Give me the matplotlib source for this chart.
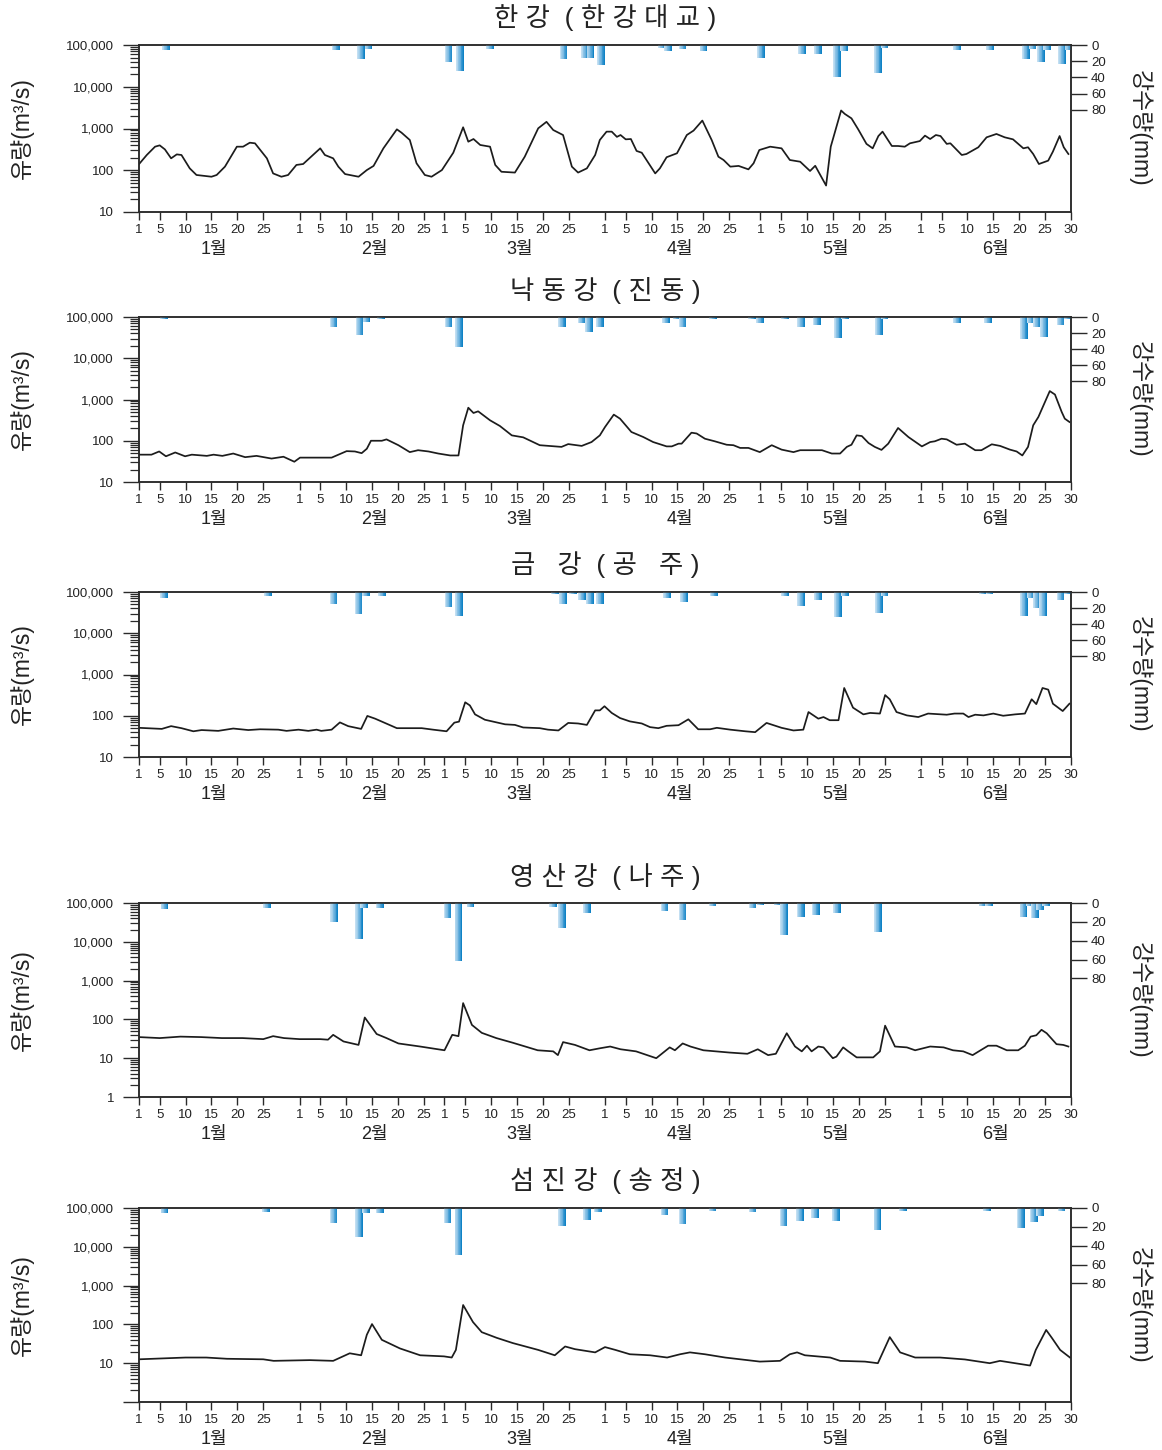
import numpy as np
import matplotlib
matplotlib.use('Agg')
import matplotlib.pyplot as plt
from matplotlib.ticker import LogLocator, FuncFormatter, NullFormatter
from matplotlib.colors import LinearSegmentedColormap

plt.rcParams['font.family'] = ['Liberation Sans', 'Noto Sans CJK KR', 'DejaVu Sans']

# ---------------- data (day index: 0 = 1 Jan ... 180 = 30 Jun) ----------------
titles = ['한 강  ( 한 강 대 교 )', '낙 동 강  ( 진 동 )', '금   강  ( 공   주 )',
          '영 산 강  ( 나 주 )', '섬 진 강  ( 송 정 )']

han_day = [0.0, 1.5, 3.1, 4.0, 5.0, 6.2, 7.3, 8.2, 9.8, 11.1, 14.0, 15.0, 16.6, 18.9, 20.1, 21.4, 22.4,
           24.7, 25.9, 27.5, 28.8, 30.4, 31.7, 35.0, 35.9, 37.5, 38.5, 39.8, 42.4, 44.0, 45.3, 47.2,
           49.8, 50.7, 52.3, 53.6, 55.2, 56.5, 58.5, 60.7, 62.6, 63.6, 64.6, 65.9, 67.8, 68.8, 70.0,
           72.6, 74.5, 77.1, 78.7, 80.0, 81.9, 83.6, 84.8, 86.5, 88.1, 89.0, 90.3, 91.3, 92.3, 93.0,
           94.0, 95.0, 96.1, 97.1, 99.7, 100.6, 101.9, 103.9, 105.8, 107.1, 108.8, 110.6, 111.9,
           112.9, 114.2, 115.8, 117.7, 118.7, 119.8, 121.9, 124.1, 125.7, 127.7, 129.6, 130.6,
           132.7, 133.6, 135.6, 136.3, 137.6, 138.9, 140.5, 141.7, 142.8, 143.6, 145.4, 146.6,
           147.9, 148.9, 150.8, 151.8, 152.8, 153.9, 154.8, 156.0, 156.7, 158.9, 159.8, 162.1,
           163.7, 165.6, 167.2, 168.8, 170.8, 171.7, 172.7, 173.8, 175.6, 176.5, 177.8, 178.6, 179.5]
han_flow = [140, 232, 367, 395, 316, 193, 240, 232, 111, 77, 70, 77, 122, 367, 367, 457, 442,
            193, 84, 70, 77, 134, 141, 335, 232, 193, 122, 81, 70, 101, 127, 335,
            955, 795, 531, 147, 77, 70, 101, 263, 1070, 483, 560, 403, 367, 134, 92,
            88, 211, 1010, 1445, 920, 698, 122, 88, 111, 232, 531, 841, 841, 630, 698,
            550, 560, 290, 263, 84, 111, 205, 255, 698, 890, 1550, 531, 211,
            176, 122, 127, 105, 147, 305, 367, 335, 176, 160, 96, 128,
            43, 367, 2700, 2240, 1750, 955, 428, 335, 660, 841, 381, 381,
            367, 442, 500, 675, 560, 698, 660, 428, 442, 232, 245, 355,
            615, 740, 615, 550, 335, 355, 245, 141, 170, 279, 660, 355, 245]
han_rain_day = [5.2, 38.0, 42.9, 44.3, 59.8, 62.0, 67.8, 82.0, 86.1, 87.2, 89.2, 101.0, 102.2, 105.0,
                109.0, 120.1, 128.1, 131.1, 134.8, 136.2, 142.7, 144.0, 158.0, 164.4, 171.3, 172.6,
                174.2, 175.4, 178.3, 179.5]
han_rain_mm = [6, 6, 17, 5, 20.5, 31.6, 5, 17, 15.6, 15.6, 24.6, 4, 7, 5,
               7, 15.6, 11, 11, 39, 8, 34, 4, 6, 6, 17.6, 5,
               20.5, 6, 24, 6]

nak_day = [0.0, 2.4, 3.9, 5.2, 7.0, 8.9, 10.2, 13.1, 14.4, 16.1, 18.2, 20.5, 22.7, 25.6, 27.9, 30.0,
           31.1, 37.2, 40.1, 41.7, 43.0, 44.0, 44.8, 46.9, 47.8, 50.1, 52.3, 53.9, 55.9, 57.8, 60.1,
           61.7, 62.6, 63.6, 64.6, 65.5, 67.8, 69.7, 72.0, 74.2, 77.4, 81.6, 82.9, 85.5, 87.4, 89.0,
           90.0, 91.7, 92.9, 95.1, 97.4, 99.3, 101.9, 102.9, 104.2, 104.8, 106.7, 107.7, 109.3,
           111.2, 113.5, 114.8, 116.1, 117.7, 119.9, 122.2, 124.1, 126.4, 127.7, 131.9, 133.8,
           135.4, 136.7, 137.6, 138.6, 139.6, 140.9, 142.1, 143.4, 144.7, 146.6, 148.6, 151.2,
           152.8, 153.7, 155.0, 156.0, 157.9, 159.5, 161.5, 162.7, 164.7, 166.3, 168.2, 169.5,
           170.6, 171.7, 172.7, 173.7, 175.9, 176.9, 178.2, 178.8, 179.7]
nak_flow = [46, 46, 55, 42, 52, 42, 46, 43, 46, 43, 49, 40, 43, 37, 41, 31,
            39, 39, 56, 55, 50, 64, 100, 100, 108, 78, 53, 59, 55, 49, 44,
            44, 237, 632, 471, 517, 313, 228, 135, 121, 78, 71, 83, 75, 93, 135,
            215, 430, 343, 163, 123, 93, 73, 73, 85, 85, 157, 150, 112,
            97, 80, 78, 67, 67, 53, 78, 61, 53, 59, 59, 49,
            49, 71, 80, 135, 130, 88, 71, 60, 85, 204, 123, 73,
            93, 97, 112, 108, 80, 85, 59, 59, 82, 75, 61, 55,
            44, 71, 237, 377, 1600, 1320, 500, 343, 285]
nak_rain_day = [4.8, 37.6, 42.6, 43.9, 46.7, 59.8, 61.8, 81.7, 85.5, 86.9, 89.0, 101.8, 103.8, 105.0,
                110.9, 118.4, 119.9, 124.8, 127.9, 130.9, 135.0, 136.3, 142.9, 144.0, 158.0, 164.0,
                170.9, 172.2, 173.4, 174.8, 178.0, 179.3]
nak_rain_mm = [3, 13, 22, 6, 3, 13, 38, 13, 7, 19, 13, 7, 3, 13,
               3, 3, 7, 3, 12, 10, 26, 3, 22, 3, 7, 7,
               27, 7.5, 13, 25, 10, 3]

geum_day = [0.0, 4.4, 6.2, 8.2, 10.5, 12.1, 15.3, 18.2, 21.1, 23.4, 26.9, 28.5, 30.8, 32.7, 34.3,
            35.2, 37.2, 38.8, 40.4, 42.9, 44.1, 45.6, 48.1, 49.8, 54.6, 56.8, 59.4, 60.9, 61.8, 63.0,
            63.9, 64.9, 66.8, 70.7, 72.6, 74.2, 77.4, 79.0, 81.0, 82.9, 84.8, 86.5, 88.1, 89.0, 89.9,
            91.3, 92.9, 94.8, 97.1, 98.7, 100.3, 101.9, 104.2, 106.1, 108.0, 110.3, 111.6, 114.2,
            117.1, 119.0, 121.2, 124.1, 126.4, 128.3, 129.3, 131.2, 132.2, 133.4, 135.1, 136.2,
            137.9, 139.9, 141.2, 143.1, 144.1, 145.0, 146.3, 148.3, 150.5, 152.4, 156.0, 157.5,
            159.2, 160.2, 161.5, 163.1, 165.0, 166.9, 169.2, 171.1, 172.4, 173.3, 174.5, 175.6,
            176.5, 178.4, 179.7]
geum_flow = [51, 48, 56, 50, 42, 45, 43, 49, 45, 47, 46, 43, 46, 43, 46,
             43, 46, 69, 56, 48, 99, 85, 62, 50, 50, 46, 42, 68, 72, 212,
             178, 108, 80, 62, 60, 52, 50, 46, 44, 67, 65, 60, 135, 135, 170,
             117, 88, 73, 65, 53, 50, 57, 59, 82, 47, 47, 51, 46,
             42, 40, 67, 51, 44, 46, 123, 85, 93, 78, 78, 471,
             157, 108, 117, 113, 317, 250, 123, 102, 93, 113, 106, 113,
             113, 93, 106, 102, 113, 100, 108, 113, 251, 191, 471, 430,
             196, 130, 196]
geum_rain_day = [4.8, 24.9, 37.6, 42.4, 43.8, 46.9, 59.8, 61.8, 80.3, 81.9, 83.8, 85.6, 87.1, 89.0,
                 102.0, 105.3, 111.0, 124.8, 127.9, 131.1, 135.0, 136.3, 142.9, 144.0, 163.0, 164.3,
                 170.9, 172.2, 173.4, 174.6, 178.0, 179.3]
geum_rain_mm = [7, 5, 14.6, 28, 5, 5, 19, 30, 3, 14.6, 3, 10, 14.6, 14.6,
                8, 12.5, 5, 5, 17.5, 10, 31, 5, 26, 5, 3, 3,
                30, 7, 19.6, 30, 10, 3]

yeong_day = [0, 4, 8, 12, 16, 20, 24, 25.9, 28, 31, 35, 36.5, 37.5, 39.5, 42.4, 43.6, 45.9, 47.8,
             50.1, 54.3, 59, 60.5, 61.7, 62.6, 64.3, 66.2, 69, 72.2, 77, 80, 80.9, 81.9, 84.2, 87,
             89, 91, 93, 96, 99.9, 102.5, 103.5, 105, 106.5, 109, 114, 117.5, 119.5, 121.5, 123,
             125.1, 126.7, 128, 129, 129.9, 131.2, 132.2, 134, 134.7, 136, 137, 138.6, 141.8, 143.1,
             144.1, 146, 148.3, 149.9, 152.8, 155.4, 157.2, 159.2, 161, 162.4, 164, 165.6, 167.6,
             169.8, 171.1, 172.2, 173.3, 174.3, 175.3, 177.2, 178.5, 179.5]
yeong_flow = [35, 33, 36, 35, 33, 33, 31, 37, 33, 31, 31, 30, 40, 27, 22, 112, 42, 33,
              24, 20, 16, 40, 37, 263, 72, 45, 33, 25, 16, 15, 12, 26, 22, 16,
              18, 20, 17, 15, 10, 19, 16, 24, 20, 16, 14, 13, 17, 12, 13,
              44, 20, 15, 21, 15, 20, 19, 10, 11, 19, 15, 10.5, 10.5, 15,
              69, 20, 19, 16, 20, 19, 16, 15, 12, 15.6, 21, 21, 16,
              16, 21, 36, 39, 54, 44, 23, 22, 20]
yeong_rain_day = [4.9, 24.7, 37.7, 42.5, 43.5, 46.5, 59.6, 61.7, 64.0, 80.0, 81.7, 86.5, 101.5, 105.0,
                  110.8, 118.5, 120.0, 123.3, 124.6, 127.8, 130.7, 134.8, 142.7, 162.9, 164.2, 170.8,
                  172.0, 173.0, 174.0, 175.2]
yeong_rain_mm = [6.8, 5.7, 20, 37.7, 5.7, 5.7, 16, 62, 4, 4, 27, 11, 8.5, 18,
                 3, 5, 2, 2, 34, 14.6, 12.8, 11, 31, 3, 3, 14.6,
                 3, 16.4, 7.5, 3]

seom_day = [0, 9, 13, 17, 24, 26, 33, 37.5, 40.7, 42.9, 44.0, 45.0, 46.9, 50.4, 54.3, 58.9, 60.4,
            61.2, 62.6, 64.5, 66.2, 69.1, 72.2, 77.1, 80.3, 82.3, 84.2, 88.1, 90.0, 92.0, 94.8, 98.7,
            102.0, 104.5, 106.4, 109.3, 113.2, 119.9, 123.8, 125.7, 127.1, 128.6, 133.5, 135.4,
            140.2, 142.7, 145.0, 147.0, 149.9, 154.7, 159.5, 164.3, 166.3, 169.2, 172.1, 173.2,
            175.2, 176.3, 177.9, 179.8]
seom_flow = [12.6, 14, 14, 13, 12.6, 11.5, 12, 11.5, 18, 16, 54, 102, 40, 24, 16, 15, 14,
             22, 316, 115, 63, 45, 33, 22, 16, 27, 23, 19, 26, 22, 17, 16,
             14, 17, 19, 17, 14, 11, 11.5, 17, 19, 16, 14, 11.5,
             11, 10, 47, 19, 14, 14, 12.5, 10, 11.5, 10, 8.7, 22,
             72, 45, 22, 14]
seom_rain_day = [4.9, 24.5, 37.6, 42.5, 43.8, 46.5, 59.6, 61.7, 81.7, 86.5, 88.6, 101.5, 105.0, 110.8,
                 118.5, 124.5, 127.7, 130.6, 134.6, 142.6, 147.5, 163.8, 170.3, 172.8, 174.0, 178.2]
seom_rain_mm = [5, 4, 16, 31, 5, 5, 16, 50, 19, 13, 4, 7.5, 17, 3,
                4, 19, 14, 10.6, 14, 23, 3, 3, 21, 15, 8.5, 3]

month_names = ['1월', '2월', '3월', '4월', '5월', '6월']
month_start = [0, 31, 59, 90, 120, 151]
tick_dom = [1, 5, 10, 15, 20, 25]
last_tick_day, last_tick_label = 180, '30'
rain_ticks = [0, 20, 40, 60, 80]

# ---------------- layout ----------------
W, H = 1162, 1450
fig = plt.figure(figsize=(W / 100, H / 100), dpi=100)

panels = [
    dict(day=han_day, flow=han_flow, rd=han_rain_day, rm=han_rain_mm, lo=10, box=(139, 45, 1071, 212), ty=18, show_lo=True),
    dict(day=nak_day, flow=nak_flow, rd=nak_rain_day, rm=nak_rain_mm, lo=10, box=(139, 317, 1071, 482), ty=290, show_lo=True),
    dict(day=geum_day, flow=geum_flow, rd=geum_rain_day, rm=geum_rain_mm, lo=10, box=(139, 592, 1071, 757), ty=565, show_lo=True),
    dict(day=yeong_day, flow=yeong_flow, rd=yeong_rain_day, rm=yeong_rain_mm, lo=1, box=(139, 903, 1071, 1097), ty=876, show_lo=True),
    dict(day=seom_day, flow=seom_flow, rd=seom_rain_day, rm=seom_rain_mm, lo=1, box=(139, 1208, 1071, 1402), ty=1180, show_lo=False),
]

cmap = LinearSegmentedColormap.from_list('rain', ['#c3dff2', '#72b5e0', '#0f82c5'])

xticks, xlabels = [], []
for s in month_start:
    for d in tick_dom:
        xticks.append(s + d - 1)
        xlabels.append(str(d))
xticks.append(last_tick_day)
xlabels.append(last_tick_label)

spine_col = '#2a2a2a'
txt_col = '#222222'


def draw_rain(ax2, days, mm, width=1.45, n=10):
    cols = [cmap(i / (n - 1)) for i in range(n)]
    offs = (np.arange(n) + 0.5) / n * width - width / 2
    for d, v in zip(days, mm):
        ax2.bar(d + offs, [v] * n, width=width / n * 1.08, color=cols, linewidth=0, bottom=0)


for p, title in zip(panels, titles):
    l, t, r, b = p['box']
    ax = fig.add_axes([l / W, 1 - b / H, (r - l) / W, (b - t) / H])
    ax.set_yscale('log')
    ax.set_ylim(p['lo'], 1e5)
    ax.set_xlim(0, 180)
    ax.plot(p['day'], p['flow'], color='#1c1c1c', lw=1.25, zorder=3)

    ax.yaxis.set_major_locator(LogLocator(base=10, numticks=12))
    ax.yaxis.set_minor_locator(LogLocator(base=10, subs=np.arange(2, 10), numticks=100))
    show_lo = p['show_lo']
    ax.yaxis.set_major_formatter(FuncFormatter(
        lambda v, pos, s=show_lo: '' if (v < 5 and not s) else f'{v:,.0f}'))
    ax.yaxis.set_minor_formatter(NullFormatter())
    ax.tick_params(axis='y', which='major', direction='out', length=11.5, width=1.0,
                   labelsize=9.5, pad=6.5, colors=spine_col, labelcolor=txt_col)
    ax.tick_params(axis='y', which='minor', direction='out', length=6.5, width=0.9, colors=spine_col)
    ax.set_xticks(xticks)
    ax.set_xticklabels(xlabels)
    ax.tick_params(axis='x', direction='out', length=6, width=1.0, labelsize=9.5, pad=2.5,
                   colors=spine_col, labelcolor=txt_col)
    for sp in ax.spines.values():
        sp.set_color(spine_col)
        sp.set_linewidth(1.1)

    for s, name in zip(month_start, month_names):
        ax.annotate(name, xy=(s + 14.5, 0), xycoords=('data', 'axes fraction'),
                    xytext=(0, -27), textcoords='offset points', ha='center', va='center',
                    fontsize=13, color=txt_col)

    ax2 = ax.twinx()
    ax2.set_ylim(206, 0)
    ax2.set_xlim(0, 180)
    draw_rain(ax2, p['rd'], p['rm'])
    ax2.set_yticks(rain_ticks)
    ax2.tick_params(axis='y', direction='out', length=11.5, width=1.0, labelsize=9.5, pad=3,
                    colors=spine_col, labelcolor=txt_col)
    for sp in ax2.spines.values():
        sp.set_color(spine_col)
        sp.set_linewidth(1.1)

    ax.text(-0.1255, 0.5, '유량(m³/s)', transform=ax.transAxes, rotation=90,
            ha='center', va='center', fontsize=16.5, color=txt_col)
    ax.text(1.074, 0.5, '강수량(mm)', transform=ax.transAxes, rotation=270,
            ha='center', va='center', fontsize=16.5, color=txt_col)

    fig.text(605 / W, 1 - p['ty'] / H, title, ha='center', va='center', fontsize=19,
             color=txt_col)

fig.savefig('out.png', dpi=100)
